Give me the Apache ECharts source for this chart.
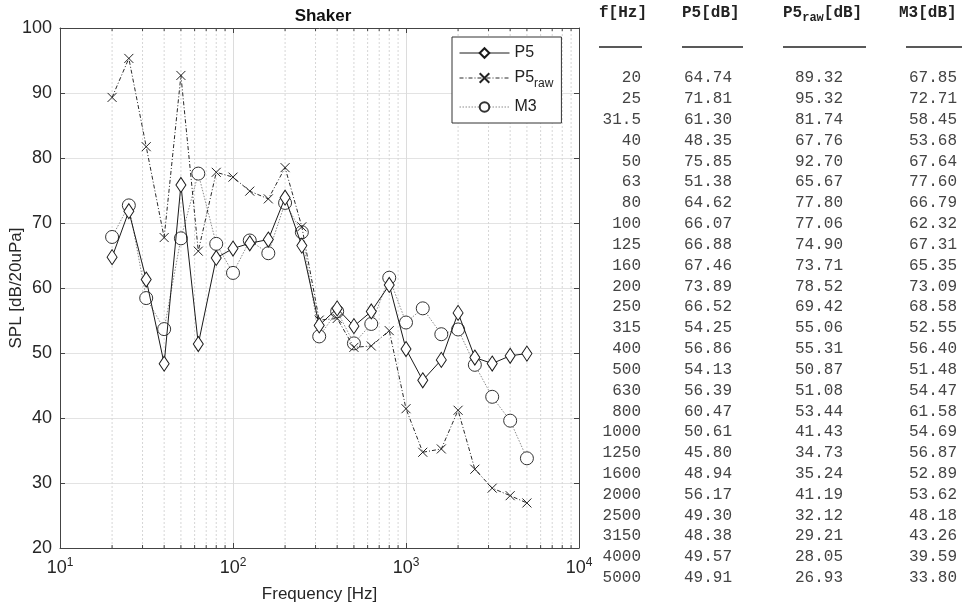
<!DOCTYPE html>
<html>
<head>
<meta charset="utf-8">
<script src="https://cdn.jsdelivr.net/npm/echarts@6/dist/echarts.min.js"></script>
<style>
html, body { margin: 0; padding: 0; background: #fff; }
#chart { width: 966px; height: 609px; }
</style>
</head>
<body>
<div id="chart"></div>
<script>
var freqLabels = ['20', '25', '31.5', '40', '50', '63', '80', '100', '125', '160', '200', '250', '315',
	'400', '500', '630', '800', '1000', '1250', '1600', '2000', '2500', '3150', '4000', '5000'];
var p5 = [64.74, 71.81, 61.30, 48.35, 75.85, 51.38, 64.62, 66.07, 66.88, 67.46, 73.89, 66.52, 54.25,
	56.86, 54.13, 56.39, 60.47, 50.61, 45.80, 48.94, 56.17, 49.30, 48.38, 49.57, 49.91];
var p5raw = [89.32, 95.32, 81.74, 67.76, 92.70, 65.67, 77.80, 77.06, 74.90, 73.71, 78.52, 69.42, 55.06,
	55.31, 50.87, 51.08, 53.44, 41.43, 34.73, 35.24, 41.19, 32.12, 29.21, 28.05, 26.93];
var m3 = [67.85, 72.71, 58.45, 53.68, 67.64, 77.60, 66.79, 62.32, 67.31, 65.35, 73.09, 68.58, 52.55,
	56.40, 51.48, 54.47, 61.58, 54.69, 56.87, 52.89, 53.62, 48.18, 43.26, 39.59, 33.80];
var yTicks = [20, 30, 40, 50, 60, 70, 80, 90, 100];

var freqs = freqLabels.map(Number);
function pairs(vals) {
	return vals.map(function (v, i) { return [freqs[i], v]; });
}

// minor log gridlines 2..9 per decade
var minorGrid = [];
[10, 100, 1000].forEach(function (d) {
	for (var k = 2; k <= 9; k++) minorGrid.push([k * d, 20]);
});

var axisFont = 'Liberation Sans';
var mono = 'Liberation Mono';
var textCol = '#262626';

// table on the right
var tableEls = [];
var colRight = [641, 732, 843, 957];
var headers = [
	'{h|f[Hz]}',
	'{h|P5[dB]}',
	'{h|P5}{hs|raw}{h|[dB]}',
	'{h|M3[dB]}'
];
var headRich = {
	h: { fontFamily: mono, fontSize: 16, fontWeight: 'bold', fill: '#222', color: '#222' },
	hs: { fontFamily: mono, fontSize: 12, fontWeight: 'bold', fill: '#222', color: '#222', padding: [9, 0, 0, 0] }
};
var headLeft = [599, 682, 783, 899];
headers.forEach(function (h, i) {
	tableEls.push({
		type: 'text', left: headLeft[i], top: 5,
		style: { text: h, rich: headRich, fontFamily: mono, fontSize: 16 }
	});
});
var ruleSpans = [[599, 642], [682, 743], [783, 866], [906, 962]];
ruleSpans.forEach(function (s) {
	tableEls.push({
		type: 'line', shape: { x1: s[0], y1: 47, x2: s[1], y2: 47 },
		style: { stroke: '#222', lineWidth: 1.5 }
	});
});
var cols = [freqLabels, p5.map(function (v) { return v.toFixed(2); }),
	p5raw.map(function (v) { return v.toFixed(2); }), m3.map(function (v) { return v.toFixed(2); })];
cols.forEach(function (col, c) {
	col.forEach(function (t, i) {
		tableEls.push({
			type: 'text', x: colRight[c], y: 78 + i * 20.83,
			style: {
				text: t, fontFamily: mono, fontSize: 16, fill: '#444',
				textAlign: 'right', textVerticalAlign: 'middle'
			}
		});
	});
});

var chart = echarts.init(document.getElementById('chart'));
var option = {
	animation: false,
	backgroundColor: '#fff',
	title: {
		text: 'Shaker',
		left: 318,
		textAlign: 'center',
		top: 3,
		textStyle: { fontFamily: axisFont, fontSize: 17, fontWeight: 'bold', color: '#111' }
	},
	legend: {
		data: ['P5', 'P5raw', 'M3'],
		orient: 'vertical',
		left: 452,
		top: 37,
		itemWidth: 50,
		itemHeight: 12,
		itemGap: 9,
		padding: [8, 8, 8, 7],
		backgroundColor: '#fff',
		borderColor: '#333',
		borderWidth: 1,
		borderRadius: 0,
		lineStyle: { width: 1 },
		formatter: function (name) {
			if (name === 'P5raw') return '{m|P5}{s|raw}';
			return '{m|' + name + '}';
		},
		textStyle: {
			rich: {
				m: { fontFamily: axisFont, fontSize: 16, color: '#222' },
				s: { fontFamily: axisFont, fontSize: 12, color: '#222', padding: [12, 0, 0, 0] }
			}
		}
	},
	grid: { left: 60, top: 28, width: 519, height: 520, containLabel: false, outerBoundsMode: 'none' },
	xAxis: [{
		type: 'log',
		logBase: 10,
		min: 10,
		max: 10000,
		name: 'Frequency [Hz]',
		nameLocation: 'middle',
		nameGap: 38,
		nameMoveOverlap: false,
		nameTextStyle: { fontFamily: axisFont, fontSize: 17, color: textCol },
		axisLine: { show: true, lineStyle: { color: '#444', width: 1 } },
		axisTick: { show: true, inside: true, length: 5, lineStyle: { color: '#444' } },
		axisLabel: {
			margin: 9,
			color: textCol,
			formatter: function (v) { return '{b|10}{e|' + Math.round(Math.log10(v)) + '}'; },
			rich: {
				b: { fontFamily: axisFont, fontSize: 18, color: textCol },
				e: { fontFamily: axisFont, fontSize: 12, color: textCol, padding: [0, 0, 10, 0] }
			}
		},
		splitLine: { show: true, lineStyle: { color: '#dcdcdc', width: 1 } }
	}, {
		type: 'log',
		logBase: 10,
		min: 10,
		max: 10000,
		position: 'top',
		axisLine: { show: true, lineStyle: { color: '#444', width: 1 } },
		axisTick: { show: true, inside: true, length: 5, lineStyle: { color: '#444' } },
		axisLabel: { show: false },
		splitLine: { show: false }
	}],
	yAxis: [{
		type: 'value',
		min: 20,
		max: 100,
		interval: 10,
		name: 'SPL [dB/20uPa]',
		nameLocation: 'middle',
		nameGap: 35,
		nameMoveOverlap: false,
		nameTextStyle: { fontFamily: axisFont, fontSize: 17, color: textCol },
		axisLine: { show: true, lineStyle: { color: '#444', width: 1 } },
		axisTick: { show: true, inside: true, length: 5, lineStyle: { color: '#444' } },
		axisLabel: { fontFamily: axisFont, fontSize: 18, color: textCol, margin: 8 },
		splitLine: { show: true, lineStyle: { color: '#e3e3e3', width: 1 } }
	}, {
		type: 'value',
		min: 20,
		max: 100,
		interval: 10,
		position: 'right',
		axisLine: { show: true, lineStyle: { color: '#444', width: 1 } },
		axisTick: { show: true, inside: true, length: 5, lineStyle: { color: '#444' } },
		axisLabel: { show: false },
		splitLine: { show: false }
	}],
	graphic: tableEls,
	series: [{
		name: 'minor',
		type: 'custom',
		xAxisIndex: 0,
		yAxisIndex: 0,
		silent: true,
		z: 1,
		data: minorGrid,
		renderItem: function (params, api) {
			var b = api.coord([api.value(0), 20]);
			var t = api.coord([api.value(0), 100]);
			return {
				type: 'group',
				children: [{
					type: 'line',
					shape: { x1: b[0], y1: b[1], x2: t[0], y2: t[1] },
					style: { stroke: '#d6d6d6', lineWidth: 1, lineDash: [2, 2] }
				}, {
					type: 'line',
					shape: { x1: b[0], y1: b[1], x2: b[0], y2: b[1] - 3 },
					style: { stroke: '#444', lineWidth: 1 }
				}, {
					type: 'line',
					shape: { x1: t[0], y1: t[1], x2: t[0], y2: t[1] + 3 },
					style: { stroke: '#444', lineWidth: 1 }
				}]
			};
		}
	}, {
		name: 'P5',
		type: 'line',
		data: pairs(p5),
		z: 5,
		symbol: 'diamond',
		symbolSize: [10, 15],
		showAllSymbol: true,
		lineStyle: { color: '#1a1a1a', width: 1 },
		itemStyle: { color: '#fff', borderColor: '#1a1a1a', borderWidth: 1 }
	}, {
		name: 'P5raw',
		type: 'line',
		data: pairs(p5raw),
		z: 4,
		symbol: 'path://M0,0L10,10M10,0L0,10',
		symbolSize: 9,
		showAllSymbol: true,
		lineStyle: { color: '#2a2a2a', width: 1, type: [4, 2, 1, 2] },
		itemStyle: { color: 'none', borderColor: '#222', borderWidth: 1 }
	}, {
		name: 'M3',
		type: 'line',
		data: pairs(m3),
		z: 3,
		symbol: 'circle',
		symbolSize: 13,
		showAllSymbol: true,
		lineStyle: { color: '#8c8c8c', width: 1, type: [1.5, 1.5] },
		itemStyle: { color: '#fff', borderColor: '#333', borderWidth: 1 }
	}]
};
chart.setOption(option);
</script>
</body>
</html>
